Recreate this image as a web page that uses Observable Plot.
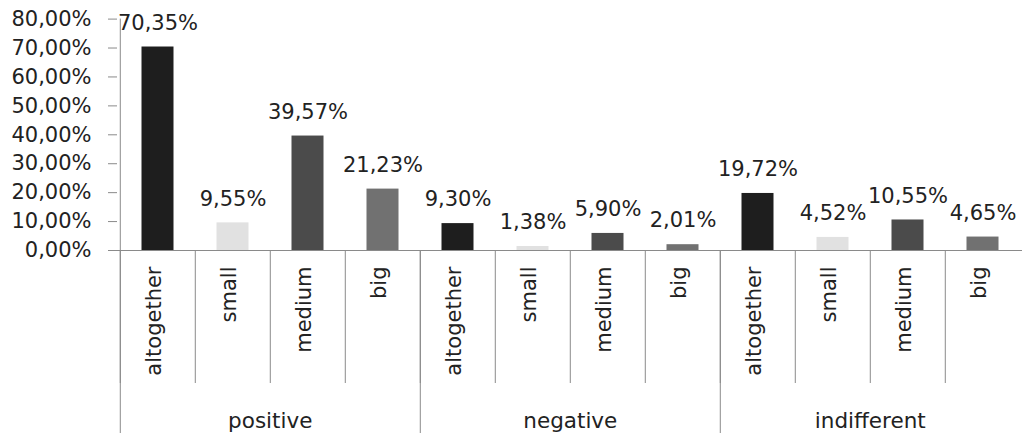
<!DOCTYPE html>
<html>
<head>
<meta charset="utf-8">
<script src="https://cdn.jsdelivr.net/npm/d3@7"></script>
<script src="https://cdn.jsdelivr.net/npm/@observablehq/plot@0.6"></script>
<style>
  html, body { margin: 0; padding: 0; background: #fff; }
</style>
</head>
<body>
<div id="chart"></div>
<script>
// Opinion groups and company sizes
const groups = ["positive", "negative", "indifferent"];
const sizes = ["altogether", "small", "medium", "big"];

// Share of answers (%) per size, one array per group
const positive = [70.35, 9.55, 39.57, 21.23];
const negative = [9.30, 1.38, 5.90, 2.01];
const indifferent = [19.72, 4.52, 10.55, 4.65];

const yTicks = [0, 10, 20, 30, 40, 50, 60, 70, 80];
const sizeColors = ["#1e1e1e", "#e1e1e1", "#4b4b4b", "#717171"];

const series = [positive, negative, indifferent];
const rows = groups.flatMap((g, gi) =>
  sizes.map((s, si) => ({group: g, size: s, key: g + "|" + s, value: series[gi][si]}))
);
const keys = rows.map(d => d.key);
const groupStarts = groups.map(g => g + "|" + sizes[0]);
const groupMiddles = groups.map(g => g + "|" + sizes[2]);

const pct = v => v.toFixed(2).replace(".", ",") + "%";

const W = 1027, H = 433;
const mL = 117, mR = 5, mT = 18.6, mB = 183;
const bw = (W - mL - mR) / keys.length;   // band width
const axisGray = "#8a8a8a";
const ink = "#222";

const chart = Plot.plot({
  width: W,
  height: H,
  marginLeft: mL,
  marginRight: mR,
  marginTop: mT,
  marginBottom: mB,
  style: {fontFamily: "DejaVu Sans", fontSize: "21px", color: ink, background: "#fff"},
  x: {domain: keys, padding: 0, axis: null, label: null},
  y: {domain: [0, 80], axis: null, label: null},
  color: {domain: sizes, range: sizeColors},
  marks: [
    Plot.barY(rows, {x: "key", y: "value", fill: "size", insetLeft: 21.5, insetRight: 21.5}),
    // value axis with its line
    Plot.axisY({ticks: yTicks, tickSize: 9, tickPadding: 17, tickFormat: pct,
                stroke: axisGray, fill: ink, fontSize: 21, label: null}),
    Plot.ruleX([keys[0]], {x: d => d, y1: 0, y2: 80, dx: -bw / 2, stroke: axisGray}),
    Plot.ruleY([0], {stroke: axisGray}),
    // separators between categories and between groups
    Plot.axisX({ticks: keys, tickSize: 133, tickFormat: () => "", dx: -bw / 2,
                stroke: axisGray, label: null}),
    Plot.axisX({ticks: groupStarts, tickSize: 183, tickFormat: () => "", dx: -bw / 2,
                stroke: axisGray, label: null}),
    // rotated category labels, reading upwards and hanging from the baseline
    Plot.text(rows, {x: "key", text: "size", frameAnchor: "bottom", rotate: -90,
                     textAnchor: "end", dy: 16, dx: 3, fill: ink, fontSize: 21}),
    // group labels
    Plot.text(groupMiddles, {x: d => d, text: d => d.split("|")[0], frameAnchor: "bottom",
                             dx: -bw / 2, dy: 177, fill: ink, fontSize: 21.5}),
    // value labels above bars
    Plot.text(rows, {x: "key", y: "value", text: d => pct(d.value), dy: -24, fill: ink, fontSize: 21})
  ]
});

document.getElementById("chart").appendChild(chart);
</script>
</body>
</html>
